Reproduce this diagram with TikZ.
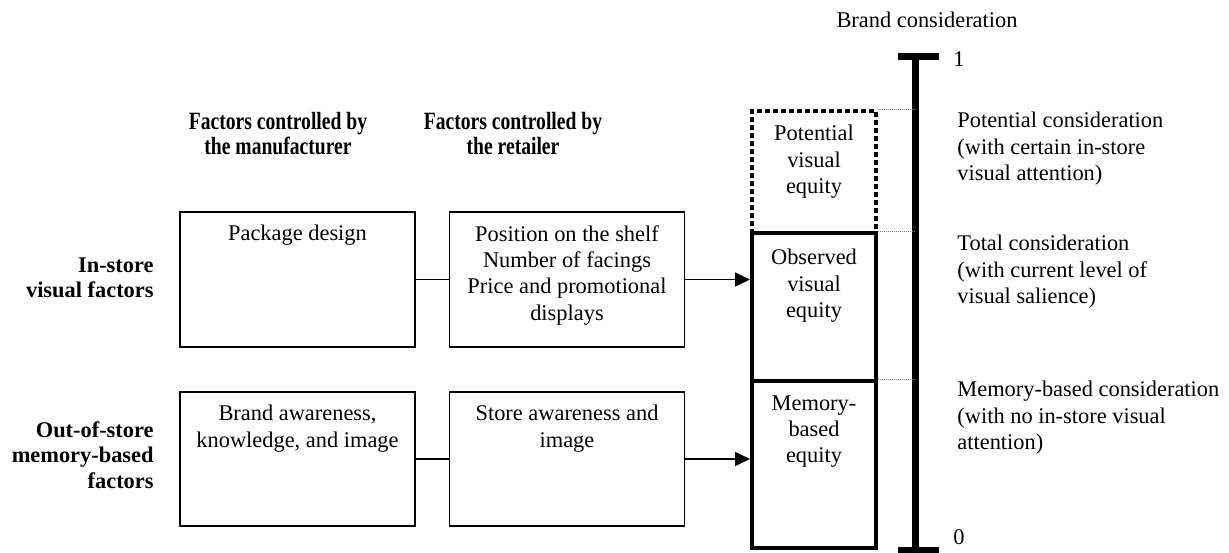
\documentclass[tikz,border=0pt]{standalone}
\usepackage{fontspec}
\setmainfont{Liberation Serif}
\newfontfamily\hdrfont[FakeStretch=0.79]{Liberation Serif}
\usetikzlibrary{arrows.meta}
\begin{document}
\begin{tikzpicture}[x=0.5pt,y=-0.5pt,
  txt/.style={font=\fontsize{11.2}{13.2}\selectfont, align=center, inner sep=0pt},
  rtxt/.style={font=\fontsize{11.2}{13.2}\selectfont, align=left, inner sep=0pt, anchor=north west},
  bld/.style={font=\fontsize{11.2}{12.8}\selectfont\bfseries, align=right, inner sep=0pt, anchor=north east},
  hdr/.style={font=\hdrfont\fontsize{12.4}{12.5}\selectfont\bfseries, align=center, inner sep=0pt, anchor=north},
  factbox/.style={draw, line width=0.75pt, inner sep=0pt, minimum width=117.5pt},
  eqbox/.style={draw, line width=2pt, inner sep=0pt, minimum width=62pt},
  potbox/.style={draw, line width=2pt, dash pattern=on 2.3pt off 1.7pt, inner sep=0pt, minimum width=62pt},
  conn/.style={line width=0.75pt},
  arr/.style={line width=0.75pt, -{Triangle[length=7.5pt,width=7pt]}},
  guide/.style={line width=0.4pt, gray, dash pattern=on 0.5pt off 0.5pt},
  axis/.style={line width=3.5pt}
]
\useasboundingbox (0,0) rectangle (1229,552);

% headers
\node[hdr] (h1) at (278,112) {Factors controlled by\\the manufacturer};
\node[hdr] (h2) at (513,112) {Factors controlled by\\the retailer};

% row labels
\node[bld] (r1) at (154,257) {In-store\\visual factors};
\node[bld] (r2) at (154,421) {Out-of-store\\memory-based\\factors};

% factor boxes
\node[factbox, minimum height=67.5pt] (pd) at (297.5,279.5) {};
\node[factbox, minimum height=67.5pt] (pos) at (567,279.5) {};
\node[factbox, minimum height=67pt] (ba) at (297.5,459) {};
\node[factbox, minimum height=67pt] (sa) at (567,459) {};

\node[txt, anchor=north] (pdt) at (297.5,225) {Package design};
\node[txt, anchor=north] (post) at (567,225) {Position on the shelf\\Number of facings\\Price and promotional\\displays};
\node[txt, anchor=north] (bat) at (297.5,405) {Brand awareness,\\knowledge, and image};
\node[txt, anchor=north] (sat) at (567,405) {Store awareness and\\image};

% equity boxes
\node[potbox, minimum height=61pt] (pot) at (814,172) {};
\node[eqbox, minimum height=74pt] (obs) at (814,307) {};
\node[eqbox, minimum height=83.5pt] (mem) at (814,464.5) {};

\node[txt, anchor=north] (pott) at (814,125) {Potential\\visual\\equity};
\node[txt, anchor=north] (obst) at (814,249) {Observed\\visual\\equity};
\node[txt, anchor=north] (memt) at (814,395) {Memory-\\based\\equity};

% connectors
\draw[conn] (pd.east) -- (pos.west);
\draw[conn] (ba.east) -- (sa.west);
\draw[arr] (pos.east) -- (pos.east -| obs.west);
\draw[arr] (sa.east) -- (sa.east -| mem.west);

% axis
\coordinate (atop) at (915,56.5);
\coordinate (abot) at (915,550);
\draw[axis] (atop) -- (abot);
\draw[axis] ([xshift=-8.5pt]atop) -- ([xshift=12pt]atop);
\draw[axis] ([xshift=-8.5pt]abot) -- ([xshift=12pt]abot);

% guides
\draw[guide] (pot.north east) -- (pot.north east -| atop);
\draw[guide] (obs.north east) -- (obs.north east -| atop);
\draw[guide] (mem.north east) -- (mem.north east -| atop);

% axis labels
\node[txt, anchor=north] (bc) at (927,12) {Brand consideration};
\node[txt, anchor=west] (one) at (953,59) {1};
\node[txt, anchor=north west] (zero) at (953,529) {0};

\node[rtxt] (pc) at (957,112) {Potential consideration\\(with certain in-store\\visual attention)};
\node[rtxt] (tc) at (957,235) {Total consideration\\(with current level of\\visual salience)};
\node[rtxt] (mc) at (957,381) {Memory-based consideration\\(with no in-store visual\\attention)};
\end{tikzpicture}
\end{document}
